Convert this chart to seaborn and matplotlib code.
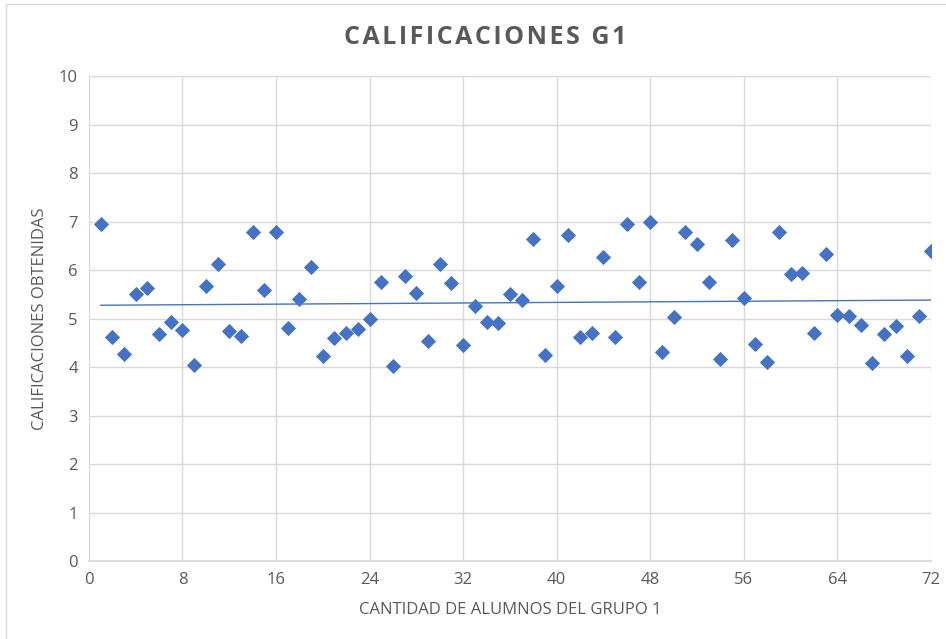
import numpy as np
import pandas as pd
import matplotlib
matplotlib.use("Agg")
import matplotlib.pyplot as plt
import seaborn as sns

# ================= DATA =================
alumnos = list(range(1, 73))
calificaciones = [
    6.95, 4.62, 4.27, 5.51, 5.63, 4.68, 4.93, 4.76, 4.04, 5.67,
    6.12, 4.74, 4.64, 6.78, 5.59, 6.78, 4.80, 5.40, 6.06, 4.23,
    4.60, 4.70, 4.78, 4.99, 5.75, 4.02, 5.88, 5.53, 4.54, 6.12,
    5.73, 4.45, 5.26, 4.93, 4.91, 5.51, 5.38, 6.64, 4.25, 5.67,
    6.72, 4.62, 4.70, 6.27, 4.62, 6.95, 5.75, 6.99, 4.31, 5.03,
    6.78, 6.54, 5.75, 4.16, 6.62, 5.42, 4.47, 4.10, 6.78, 5.92,
    5.94, 4.70, 6.33, 5.07, 5.05, 4.87, 4.08, 4.68, 4.85, 4.23,
    5.05, 6.39,
]
x_ticks = [0, 8, 16, 24, 32, 40, 48, 56, 64, 72]
y_ticks = list(range(0, 11))

df = pd.DataFrame({"alumno": alumnos, "calificacion": calificaciones})

# ================= STYLE =================
sns.set_theme(style="white")
plt.rcParams["font.family"] = ["Liberation Sans Narrow", "Open Sans", "DejaVu Sans"]

blue = "#4472C4"
grey_text = "#595959"
grid_col = "#d9d9d9"

fig = plt.figure(figsize=(9.46, 6.39), dpi=100)
ax = fig.add_axes([0.094, 0.122, 0.890, 0.759])

sns.scatterplot(data=df, x="alumno", y="calificacion", marker="D", s=60,
                color=blue, edgecolor=blue, linewidth=0, ax=ax, zorder=3)

# linear trend line
coef = np.polyfit(df["alumno"], df["calificacion"], 1)
xs = np.array([df["alumno"].min(), df["alumno"].max()])
sns.lineplot(x=xs, y=np.polyval(coef, xs), color=blue, linewidth=1, ax=ax, zorder=2)

ax.set_xlim(0, 72)
ax.set_ylim(0, 10)
ax.set_xticks(x_ticks)
ax.set_yticks(y_ticks)
ax.grid(True, color=grid_col, linewidth=1)
ax.set_axisbelow(True)
for side in ["top", "right", "left"]:
    ax.spines[side].set_visible(False)
ax.spines["bottom"].set_color(grid_col)
ax.tick_params(axis="both", colors=grey_text, labelsize=12, length=0, pad=8)

ax.set_xlabel("CANTIDAD DE ALUMNOS DEL GRUPO 1", fontsize=12, color=grey_text, labelpad=10)
ax.set_ylabel("CALIFICACIONES OBTENIDAS", fontsize=12, color=grey_text, labelpad=8)
fig.text(0.513, 0.942, "\u200a".join("CALIFICACIONES G1"),
         ha="center", va="center", fontsize=18, fontweight="bold", color=grey_text,
         family=["Open Sans", "DejaVu Sans"])

# outer chart border
fig.patches.append(plt.Rectangle((0.006, -0.01), 1.0, 1.003, transform=fig.transFigure,
                                 fill=False, edgecolor=grid_col, linewidth=1))

fig.savefig("out.png", dpi=100)
